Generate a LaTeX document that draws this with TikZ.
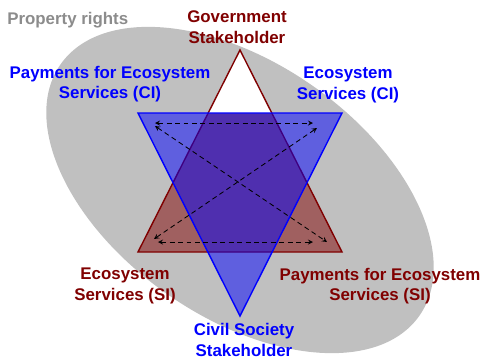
\documentclass[tikz,border=0pt]{standalone}
\usepackage{fontspec}
\setmainfont{Liberation Sans}
\definecolor{sired}{RGB}{128,0,0}
\definecolor{siredfill}{RGB}{160,96,96}
\definecolor{ciblue}{RGB}{0,0,255}
\definecolor{rightsgray}{RGB}{192,192,192}
\definecolor{rightstext}{RGB}{140,140,140}
\tikzset{
  lbl/.style={font=\fontsize{12}{14.5}\selectfont\bfseries,align=center,inner sep=0pt},
  link/.style={black,line width=0.6pt,dash pattern=on 3.5pt off 2.5pt,<->,>=stealth}
}
\begin{document}
\begin{tikzpicture}[x=0.025cm,y=-0.025cm]
    \useasboundingbox (0,0) rectangle (483,358);

    % property rights
    \fill[rightsgray,rotate around={-35:(240,190)}] (240,190) ellipse [x radius=5.475cm,y radius=3.175cm];
    \node[lbl,text=rightstext,anchor=west] (rights) at (7,20) {Property rights};

    % government (SI) triangle
    \coordinate (gtop) at (240,50);
    \coordinate (gleft) at (138,252);
    \coordinate (gright) at (342,252);
    \fill[siredfill] (gtop) -- (gleft) -- (gright) -- cycle;
    \fill[white] (gtop) -- (208.2,113) -- (271.8,113) -- cycle;
    \draw[sired,line width=1pt] (gtop) -- (gleft) -- (gright) -- cycle;

    % civil society (CI) triangle
    \coordinate (cleft) at (138,113);
    \coordinate (cright) at (342,113);
    \coordinate (cbot) at (240,316);
    \draw[ciblue,line width=1pt,fill=ciblue,fill opacity=0.5] (cleft) -- (cright) -- (cbot) -- cycle;

    % flows
    \coordinate (tl) at (155,123);
    \coordinate (tr) at (313,123);
    \coordinate (bl) at (158,242);
    \coordinate (br) at (313,242);
    \coordinate (dtl) at (155,126);
    \coordinate (dbr) at (327,242);
    \coordinate (dbl) at (154,239);
    \coordinate (dtr) at (317,128);
    \draw[link] (tl) -- (tr);
    \draw[link] (bl) -- (br);
    \draw[link] (dtl) -- (dbr);
    \draw[link] (dbl) -- (dtr);

    % labels
    \node[lbl,text=sired] (govt) at (237,27) {Government\\Stakeholder};
    \node[lbl,text=ciblue] (civil) at (244,340) {Civil Society\\Stakeholder};
    \node[lbl,text=ciblue] (pesci) at (110,84) {Payments for Ecosystem\\Services (CI)};
    \node[lbl,text=ciblue] (esci) at (348,85) {Ecosystem\\Services (CI)};
    \node[lbl,text=sired] (essi) at (125,286) {Ecosystem\\Services (SI)};
    \node[lbl,text=sired] (pessi) at (380,286) {Payments for Ecosystem\\Services (SI)};
\end{tikzpicture}
\end{document}
